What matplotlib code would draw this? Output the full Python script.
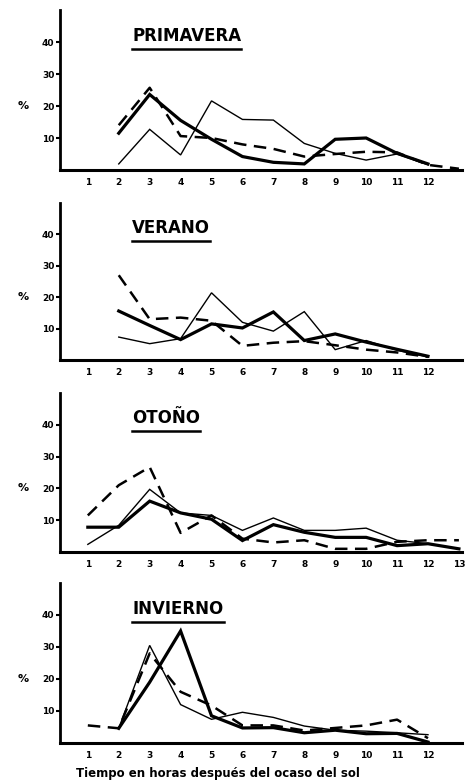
import numpy as np
import matplotlib
matplotlib.use("Agg")
import matplotlib.pyplot as plt

nan = np.nan
hours = np.arange(1, 14)

titles = ["PRIMAVERA", "VERANO", "OTOÑO", "INVIERNO"]
x_tick_labels = [[str(i) for i in range(1, 13)],
                 [str(i) for i in range(1, 13)],
                 [str(i) for i in range(1, 14)],
                 [str(i) for i in range(1, 13)]]
y_ticks = [10, 20, 30, 40]

# Primavera
prim_thick = [nan, 11.5, 23.6, 15.5, 9.6, 4.2, 2.4, 1.9, 9.6, 10.0, 5.2, 1.9, nan]
prim_dash = [nan, 14.0, 25.7, 10.6, 10.0, 8.0, 6.6, 4.2, 5.0, 5.7, 5.5, 1.6, 0.4]
prim_thin = [nan, 1.9, 12.7, 4.7, 21.6, 15.8, 15.6, 8.3, 5.2, 3.1, 5.0, 1.6, nan]
# Verano
ver_thick = [nan, 15.6, 11.0, 6.5, 11.5, 10.2, 15.3, 6.2, 8.3, 5.7, 3.4, 1.2, nan]
ver_dash = [nan, 27.0, 13.0, 13.5, 12.5, 4.5, 5.5, 6.0, 4.7, 3.3, 2.4, 1.0, nan]
ver_thin = [nan, 7.3, 5.2, 6.8, 21.4, 12.0, 9.2, 15.4, 3.3, 6.2, 3.1, 1.0, nan]
# Otoño
oto_thick = [7.8, 7.8, 16.0, 12.3, 10.3, 3.6, 8.6, 6.2, 4.6, 4.6, 2.0, 2.6, 1.0]
oto_dash = [11.5, 21.0, 26.7, 6.0, 11.5, 4.2, 3.0, 3.7, 1.0, 1.0, 3.2, 3.7, 3.7]
oto_thin = [2.4, 8.4, 19.7, 12.3, 11.5, 6.8, 10.7, 6.8, 6.8, 7.5, 3.7, 2.6, 1.0]
# Invierno
inv_thick = [nan, 4.6, 19.0, 35.0, 8.5, 4.7, 4.8, 3.2, 4.0, 2.9, 3.0, 0.3, nan]
inv_dash = [5.5, 4.6, 28.0, 16.0, 11.7, 5.5, 5.5, 3.9, 4.7, 5.5, 7.3, 1.5, nan]
inv_thin = [nan, 4.6, 30.5, 12.0, 7.4, 9.6, 8.0, 5.3, 4.0, 3.7, 3.2, 2.6, nan]

series = [
    (prim_thick, prim_dash, prim_thin),
    (ver_thick, ver_dash, ver_thin),
    (oto_thick, oto_dash, oto_thin),
    (inv_thick, inv_dash, inv_thin),
]

W, H = 466, 780
fig = plt.figure(figsize=(W / 100, H / 100), dpi=100)
fig.patch.set_facecolor("white")

# (top_px, baseline_px)
panel_px = [(10, 170), (203, 360), (393, 552), (583, 743)]
left_px, right_px = 60, 462

axes = []
title_texts = []
for i, ((top, base), (thick, dash, thin)) in enumerate(zip(panel_px, series)):
    ax = fig.add_axes([left_px / W, (H - base) / H, (right_px - left_px) / W, (base - top) / H])
    axes.append(ax)
    ax.plot(hours, thin, color="black", lw=1.0, solid_joinstyle="miter")
    ax.plot(hours, thick, color="black", lw=2.3, solid_joinstyle="miter")
    ax.plot(hours, dash, color="black", lw=1.8, dashes=(5, 3))
    ax.set_xlim(0.1, 13.1)
    ax.set_ylim(0, 50)
    for s in ["top", "right"]:
        ax.spines[s].set_visible(False)
    ax.spines["left"].set_linewidth(2.0)
    ax.spines["bottom"].set_linewidth(2.2)
    nlab = len(x_tick_labels[i])
    ax.set_xticks(np.arange(1, nlab + 1))
    ax.set_xticklabels(x_tick_labels[i], fontsize=6.5, fontweight="bold")
    ax.tick_params(axis="x", length=0, pad=6)
    ax.set_yticks(y_ticks)
    ax.set_yticklabels([str(v) for v in y_ticks], fontsize=6.5, fontweight="bold")
    ax.tick_params(axis="y", length=3, width=1.5, pad=1)
    ax.text(-0.092, 20, "%", transform=ax.get_yaxis_transform(), fontsize=8,
            fontweight="bold", ha="center", va="center")
    t = ax.text(0.18, 0.84, titles[i], transform=ax.transAxes, fontsize=12,
                fontweight="bold", ha="left", va="center")
    title_texts.append(t)

axes[-1].set_xlabel("Tiempo en horas después del ocaso del sol", fontsize=8.5,
                    fontweight="bold", labelpad=5)
axes[-1].xaxis.label.set_x(0.393)

fig.canvas.draw()
renderer = fig.canvas.get_renderer()
for ax, t in zip(axes, title_texts):
    bb = t.get_window_extent(renderer)
    inv = ax.transAxes.inverted()
    (x0, y0) = inv.transform((bb.x0, bb.y0))
    (x1, _) = inv.transform((bb.x1, bb.y0))
    ax.plot([x0, x1], [y0 - 0.025, y0 - 0.025], transform=ax.transAxes,
            color="black", lw=1.8, clip_on=False)

fig.savefig("out.png", dpi=100, facecolor="white")
